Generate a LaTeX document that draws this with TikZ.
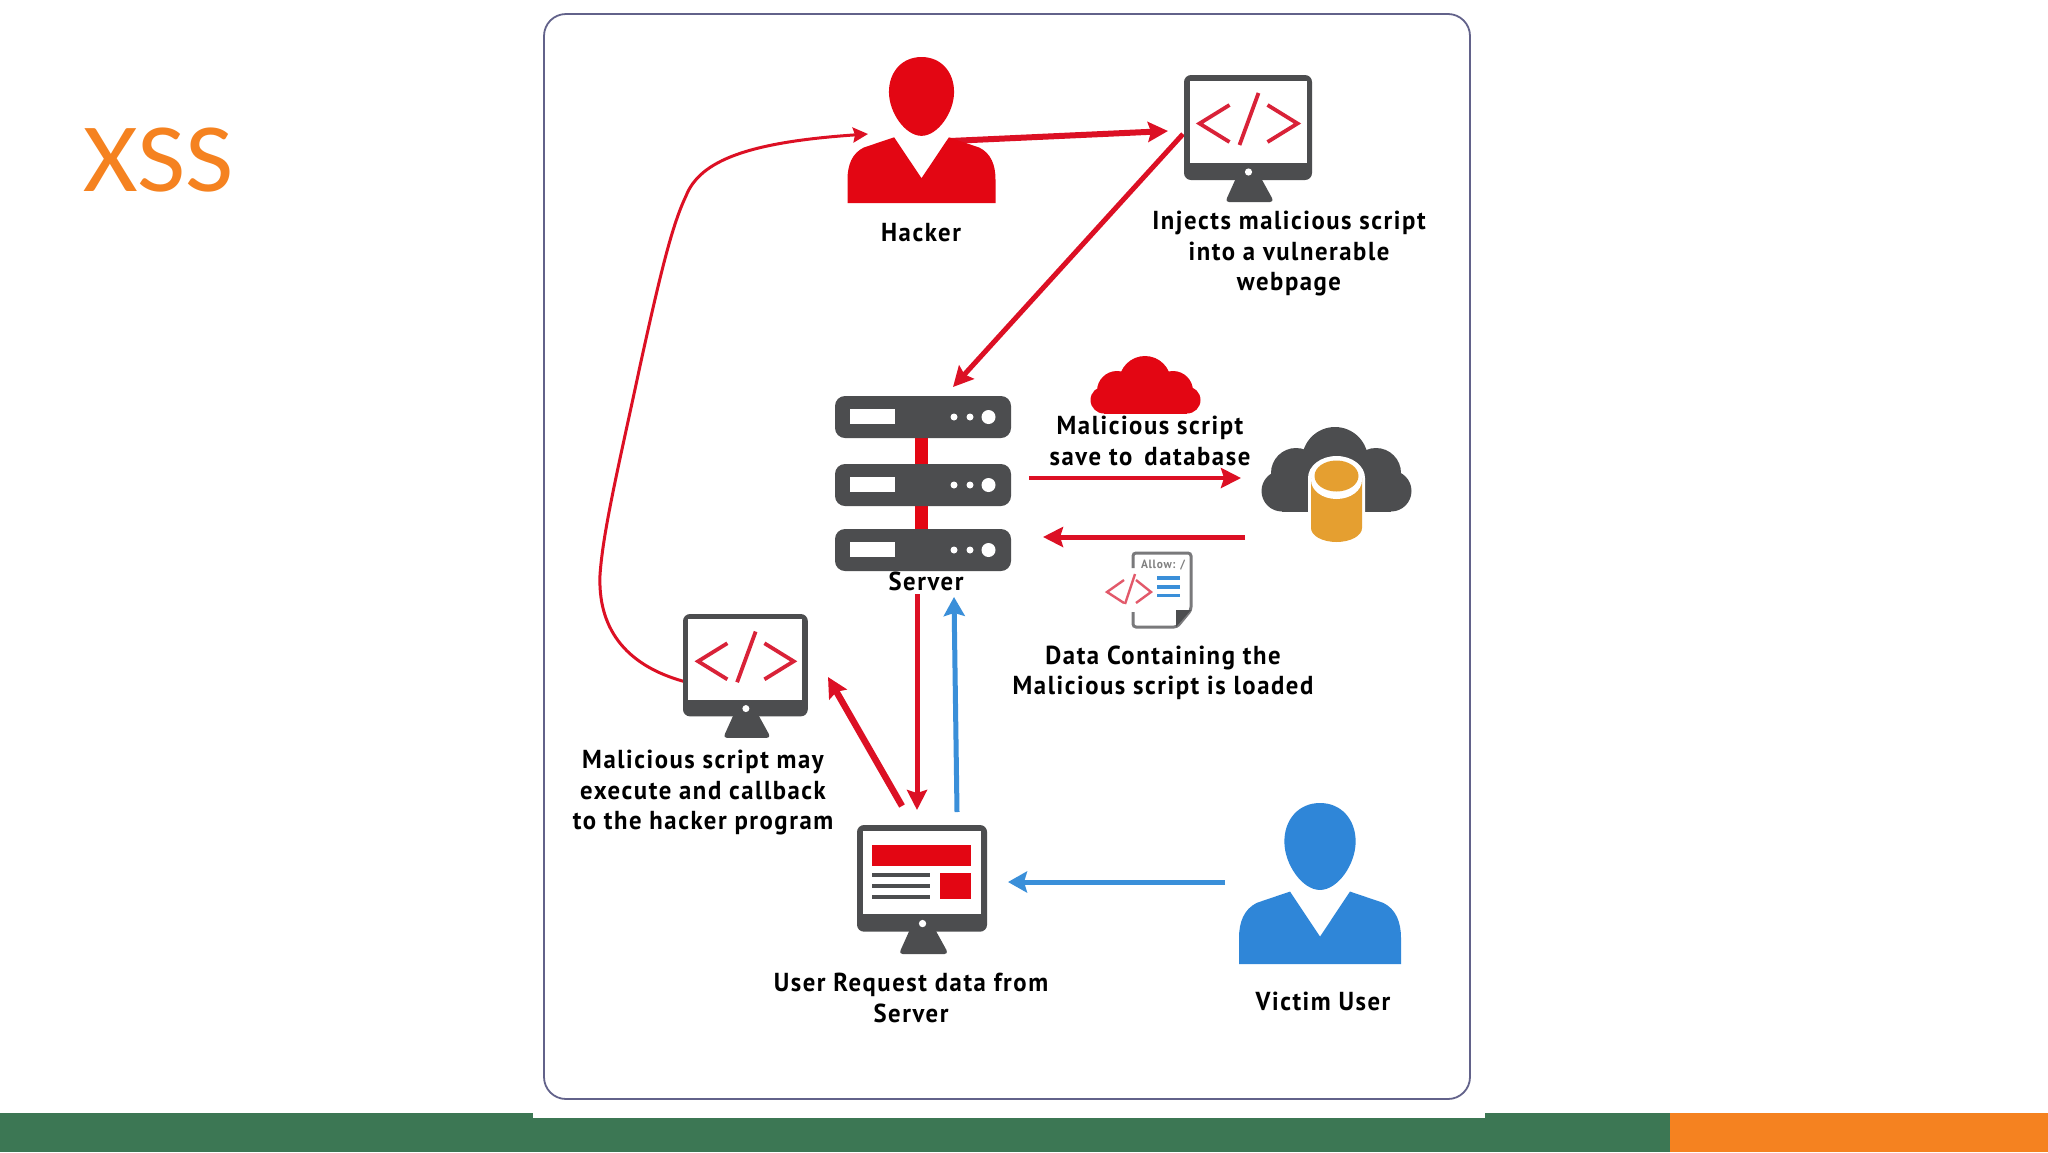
\documentclass[tikz,border=0pt]{standalone}
\usepackage{fontspec}
\usetikzlibrary{arrows.meta}
\newfontfamily\titlefont[FakeStretch=1.07]{Carlito}
\newfontfamily\labfont[FakeStretch=0.95,LetterSpace=6]{PT Sans Bold}
\definecolor{hackred}{HTML}{E30613}
\definecolor{linered}{HTML}{DC1024}
\definecolor{iconblue}{HTML}{2F86D8}
\definecolor{linkblue}{HTML}{3A8FD9}
\definecolor{icongray}{HTML}{4C4D4F}
\definecolor{barorange}{HTML}{F58220}
\definecolor{bargreen}{HTML}{3C7754}
\definecolor{cardline}{HTML}{62628A}
\definecolor{dbamber}{HTML}{E59F30}
\definecolor{codered}{HTML}{D92238}
\tikzset{
  lab/.style={font=\fontsize{26}{30.5}\selectfont\labfont,text=black,align=center,inner sep=0pt},
  redline/.style={draw=linered,line width=#1,-{Stealth[length=20pt,width=20pt,inset=3pt]}},
  blueline/.style={draw=linkblue,line width=#1,-{Stealth[length=19pt,width=21pt,inset=3pt]}},
  person/.pic={
    \fill[pic actions] (0,0) .. controls (.26,0) and (.44,.1) .. (.44,.24)
      .. controls (.44,.38) and (.22,.54) .. (0,.54)
      .. controls (-.22,.54) and (-.44,.38) .. (-.44,.24)
      .. controls (-.44,.1) and (-.26,0) .. (0,0) -- cycle;
    \fill[pic actions] (-.37,.55) -- (0,.83) -- (.37,.55) -- (.78,.62)
      .. controls (.94,.66) and (1,.74) .. (1,.84) -- (1,1) -- (-1,1) -- (-1,.84)
      .. controls (-1,.74) and (-.94,.66) .. (-.78,.62) -- cycle;
  },
  monitor/.pic={
    \fill[icongray,rounded corners=7pt] (0,0) rectangle (128,105);
    \fill[white] (5.5,5.5) rectangle (122.5,88);
    \fill[white] (64.5,97) circle (3.6);
    \fill[icongray] (52,103) -- (77,103) -- (88,123) .. controls (89,126) and (88,127) .. (86,127)
      -- (45,127) .. controls (43,127) and (42,126) .. (43,123) -- cycle;
  },
  codesym/.pic={
    \draw[codered,line width=3.8pt] (45.5,30) -- (15.5,48.5) -- (45.5,67);
    \draw[codered,line width=3.8pt] (74.5,18) -- (55.5,70);
    \draw[codered,line width=3.8pt] (83.5,30) -- (113.5,48.5) -- (83.5,67);
  },
  serverunit/.pic={
    \fill[icongray,rounded corners=10pt] (835,0) rectangle (1011,42);
    \fill[white] (850,13) rectangle (895,28);
    \fill[white] (954,21) circle (3.5) (970,21) circle (3.5) (988.5,21) circle (7);
  }
}
\begin{document}
\begin{tikzpicture}[x=1pt,y=-1pt]
\useasboundingbox (0,0) rectangle (2048,1152);
\fill[white] (0,0) rectangle (2048,1152);
% footer bars
\fill[bargreen] (0,1113) rectangle (1670,1152);
\fill[barorange] (1670,1113) rectangle (2048,1152);
\fill[white] (533,1100) rectangle (1485,1118);
% card
\filldraw[fill=white,draw=cardline,line width=1.8pt,rounded corners=22pt] (544,14) rectangle (1470,1099);
% title
\node[font=\fontsize{98}{98}\selectfont\titlefont,text=barorange,inner sep=0pt] (title) at (158.5,160) {XSS};

% named connector ends
\coordinate (hackOut) at (950,141);
\coordinate (injIn) at (1168,131);
\coordinate (injOut) at (1183,134);
\coordinate (srvTop) at (953,387);
\coordinate (srvOutR) at (1029,478);
\coordinate (dbIn) at (1241,478);
\coordinate (dbOut) at (1245,537);
\coordinate (srvInR) at (1043,537);
\coordinate (srvDown) at (917,594);
\coordinate (brwTop) at (917,810);
\coordinate (brwUp) at (957,812);
\coordinate (srvBlue) at (954,597);
\coordinate (brwLeft) at (902,806);
\coordinate (monR) at (828,677);
\coordinate (vicOut) at (1225,882);
\coordinate (brwR) at (1008,882);
\coordinate (monL) at (686,682);
\coordinate (hackIn) at (868,134);

% connectors
\path[redline=6pt] (hackOut) -- (injIn);
\path[redline=5pt] (injOut) -- (srvTop);
\path[redline=4pt] (srvOutR) -- (dbIn);
\path[redline=5pt] (dbOut) -- (srvInR);
\path[redline=5pt] (srvDown) -- (brwTop);
\path[blueline=5pt] (brwUp) -- (srvBlue);
\path[redline=6.5pt] (brwLeft) -- (monR);
\path[blueline=5pt] (vicOut) -- (brwR);
\draw[draw=linered,line width=3pt,-{Stealth[length=15pt,width=15pt,inset=2pt]}]
  (monL) .. controls (622,665) and (598,625) .. (600,575)
  .. controls (603,530) and (620,460) .. (640,366)
  .. controls (660,275) and (672,225) .. (686,196)
  .. controls (700,160) and (750,142) .. (hackIn);

% people
\pic[fill=hackred,xscale=74,yscale=146] (hackerIcon) at (921.5,57) {person};
\pic[fill=iconblue,xscale=81,yscale=161] (victimIcon) at (1320,803) {person};

% monitors
\pic (injMon) at (1184,75) {monitor};
\pic (injCode) at (1184,75) {codesym};
\pic[scale=.975] (cbMon) at (683,614) {monitor};
\pic[scale=.975] (cbCode) at (683,614) {codesym};
\pic[scale=1.016] (brwMon) at (857,825) {monitor};
\fill[hackred] (872,845) rectangle (971,866);
\fill[hackred] (940,873) rectangle (971,899);
\draw[icongray,line width=3.4pt] (872,875) -- (930,875) (872,886) -- (930,886) (872,897) -- (930,897);

% server
\fill[hackred] (915,430) rectangle (928,535);
\pic (srv1) at (0,396) {serverunit};
\pic (srv2) at (0,464) {serverunit};
\pic (srv3) at (0,529) {serverunit};

% red cloud
\fill[hackred] (1145,382) circle (26) (1117,391) circle (20) (1173,391) circle (20)
  (1104,400) circle (13.5) (1187,400) circle (13.5);
\fill[hackred] (1104,395) rectangle (1187,413.5);

% database cloud
\fill[icongray] (1335,460) circle (33) (1296,473) circle (25) (1376,473) circle (25)
  (1282,491) circle (20.5) (1391,491) circle (20.5);
\fill[icongray] (1282,480) rectangle (1391,511.5);
\fill[white] (1308,478) -- (1308,528) arc[start angle=180,end angle=0,x radius=28.5,y radius=16] -- (1365,478) -- cycle;
\fill[white] (1336.5,478) ellipse (28.5 and 22);
\fill[dbamber] (1311,478) -- (1311,528) arc[start angle=180,end angle=0,x radius=25.5,y radius=14] -- (1362,478) -- cycle;
\fill[white] (1336.5,480) ellipse (25.5 and 19);
\fill[dbamber] (1336.5,476) ellipse (22 and 15.5);

% document
\draw[icongray!75,line width=3pt,rounded corners=3pt] (1133,568) -- (1133,553) -- (1191,553) -- (1191,610) -- (1177,627) -- (1133,627) -- (1133,612);
\fill[icongray] (1191,610) -- (1176,610) -- (1176,627) -- cycle;
\node[font=\fontsize{12}{12}\selectfont\labfont,text=gray,inner sep=0pt] (allow) at (1163,565) {Allow: /};
\draw[codered!75,line width=2.4pt] (1124,580) -- (1107,592) -- (1124,603);
\draw[codered!75,line width=2.4pt] (1135,574) -- (1125,604);
\draw[codered!75,line width=2.4pt] (1136,580) -- (1151,592) -- (1136,603);
\draw[linkblue,line width=3.6pt] (1157,578) -- (1180,578) (1157,587) -- (1180,587) (1157,595.5) -- (1180,595.5);

% labels
\node[lab] (hackerLab) at (921,233) {Hacker};
\node[lab] (injLab) at (1289,254) {Injects malicious script\\into a vulnerable\\webpage};
\node[lab] (saveLab) at (1150,441) {Malicious script\\save to\, database};
\node[lab] (srvLab) at (926,581) {Server};
\node[lab] (dataLab) at (1163,673) {Data Containing the\\Malicious script is loaded};
\node[lab] (cbLab) at (703,792.5) {Malicious script may\\execute and callback\\to the hacker program};
\node[lab] (reqLab) at (911,998) {User Request data from\\Server};
\node[lab] (vicLab) at (1323,1001) {Victim User};
\end{tikzpicture}
\end{document}
